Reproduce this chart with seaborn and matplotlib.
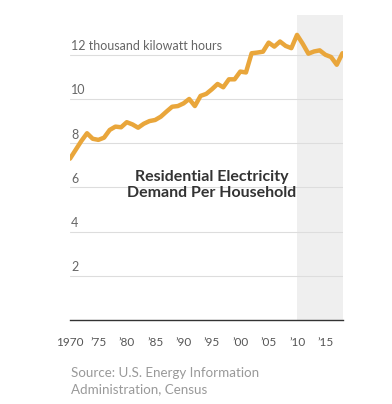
import matplotlib
matplotlib.use("Agg")
import matplotlib.pyplot as plt
import seaborn as sns
import pandas as pd

years = list(range(1970, 2019))
demand = [7.30, 7.70, 8.10, 8.45, 8.20, 8.15, 8.25, 8.60, 8.75, 8.72,
          8.95, 8.85, 8.70, 8.88, 9.00, 9.05, 9.20, 9.43, 9.65, 9.68,
          9.80, 10.00, 9.68, 10.14, 10.23, 10.44, 10.68, 10.53, 10.89, 10.89,
          11.24, 11.20, 12.07, 12.10, 12.14, 12.55, 12.37, 12.60, 12.40, 12.30,
          12.90, 12.50, 12.05, 12.15, 12.20, 12.00, 11.90, 11.55, 12.07]
ytick_vals = [2, 4, 6, 8, 10, 12]
ytick_labels = ["2", "4", "6", "8", "10", "12 thousand kilowatt hours"]
xtick_vals = [1970, 1975, 1980, 1985, 1990, 1995, 2000, 2005, 2010, 2015]
xtick_labels = ["1970", "\u201975", "\u201980", "\u201985", "\u201990", "\u201995",
                "\u201900", "\u201905", "\u201910", "\u201915"]
title = "Residential Electricity\nDemand Per Household"
source = "Source: U.S. Energy Information\nAdministration, Census"

sns.set_style("white")
plt.rcParams["font.family"] = ["Lato", "DejaVu Sans"]

df = pd.DataFrame({"year": years, "demand": demand})

fig = plt.figure(figsize=(3.92, 4.04), dpi=100)
ax = fig.add_axes([70/392, 84/404, 273/392, 305/404])

ax.axvspan(2010, 2018.1, color="#efefef", lw=0, zorder=0)
for v, lab in zip(ytick_vals, ytick_labels):
    ax.axhline(v, color="#dddddd", lw=0.8, zorder=1)
    ax.text(1970.2, v + 0.12, lab, fontsize=9, color="#666666",
            ha="left", va="bottom", zorder=2)

sns.lineplot(data=df, x="year", y="demand", ax=ax, color="#E9A63B",
             linewidth=3.2, zorder=3, solid_capstyle="round",
             solid_joinstyle="round")

ax.set_xlim(1970, 2018.1)
ax.set_ylim(0, 13.8)
ax.set_yticks([])
ax.set_xticks(xtick_vals)
ax.set_xticklabels(xtick_labels, fontsize=8.5, color="#555555")
ax.tick_params(axis="x", length=4, width=0.6, color="#999999", pad=8)
for s in ["top", "right", "left"]:
    ax.spines[s].set_visible(False)
ax.spines["bottom"].set_color("#333333")
ax.spines["bottom"].set_linewidth(1.0)
ax.set_xlabel("")
ax.set_ylabel("")

ax.text(1995.0, 6.1, title, fontsize=11.5, fontweight="bold", color="#333333",
        ha="center", va="center", linespacing=1.2, zorder=4)

fig.text(71/392, 1 - 381/404, source, fontsize=9.6, color="#999999",
         ha="left", va="center", linespacing=1.35)

fig.savefig("out.png", dpi=100)
